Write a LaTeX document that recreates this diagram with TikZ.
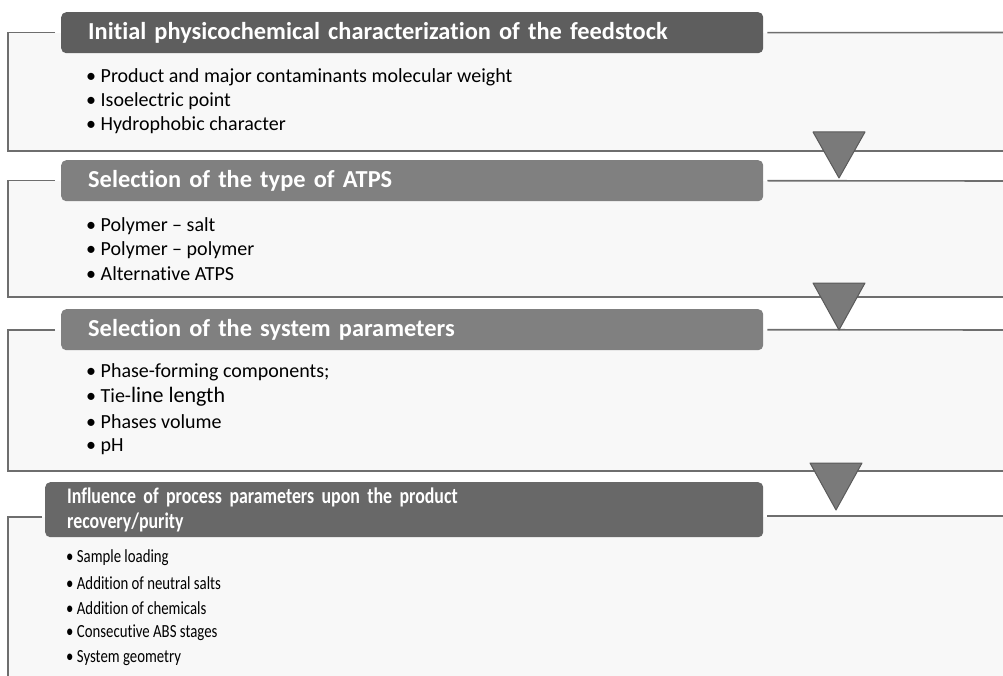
\documentclass[tikz,border=0pt]{standalone}
\usepackage{fontspec}
\setmainfont{Carlito}[Ligatures=NoCommon]
\newfontfamily\narrowfont[FakeStretch=0.8,Ligatures=NoCommon]{Carlito}
\definecolor{framegray}{HTML}{6E6E6E}
\definecolor{panelbg}{HTML}{F8F8F8}
\definecolor{headA}{HTML}{5E5E5E}
\definecolor{headB}{HTML}{808080}
\definecolor{headD}{HTML}{686868}
\definecolor{trifill}{HTML}{7A7A7A}
\definecolor{triline}{HTML}{5A5A5A}
\begin{document}
\begin{tikzpicture}[x=1pt,y=-1pt,
  frame/.style={draw=framegray, line width=1.6pt},
  panel/.style={fill=panelbg, draw=none},
  head/.style={rounded corners=5pt, text=white, anchor=north west,
    font=\fontsize{24.4}{28}\selectfont\bfseries, inner xsep=27pt,
    minimum height=41pt, text width=648pt, align=left},
  item/.style={anchor=west, inner sep=0pt, font=\fontsize{20}{22}\selectfont},
  nitem/.style={anchor=west, inner sep=0pt, font=\fontsize{18.5}{20}\selectfont\narrowfont},
  tri/.style={fill=trifill, draw=triline, line width=1pt, line join=round}
]
\useasboundingbox (0,0) rectangle (1003,676);
% panels
\fill[panel] (8,33) rectangle (1003,151);
\fill[panel] (8,181) rectangle (1003,297);
\fill[panel] (8,330) rectangle (1003,471);
\fill[panel] (8,517) rectangle (1003,676);

% headers
\node[head, fill=headA] (h1) at (61,12) {Initial physicochemical characterization of the feedstock};
\node[head, fill=headB] (h2) at (61,160) {Selection of the type of ATPS};
\node[head, fill=headB] (h3) at (61,309) {Selection of the system parameters};
\node[head, fill=headD, minimum height=55pt, inner xsep=22pt, text width=674pt,
  font=\fontsize{22.3}{25}\selectfont\bfseries\narrowfont] (h4) at (45,482)
  {Influence of process parameters upon the product\\recovery/purity};

% frames
\coordinate (e1) at (8,151);
\coordinate (e2) at (8,297);
\coordinate (e3) at (8,471);
\coordinate (e4) at (8,676);
\draw[frame] ([xshift=-6pt]h1.west) -- (h1.west -| e1) -- (e1) -- (1003,151);
\draw[frame] ([xshift=4pt]h1.east) -- (1003,32.5);
\draw[frame] ([xshift=-6pt]h2.west) -- (h2.west -| e2) -- (e2) -- (1003,297);
\draw[frame] ([xshift=4pt]h2.east) -- (1003,181);
\draw[frame] ([xshift=-6pt]h3.west) -- (h3.west -| e3) -- (e3) -- (1003,471);
\draw[frame] ([xshift=4pt]h3.east) -- (1003,330);
\coordinate (l4) at (42,517);
\draw[frame] (l4) -- (l4 -| e4) -- (e4);
\draw[frame] ([xshift=4pt]h4.east |- 0,516) -- (1003,516);

% triangles
\draw[tri] (813,132) -- (865,132) -- (839,178) -- cycle;
\draw[tri] (813,283) -- (865,283) -- (839,330) -- cycle;
\draw[tri] (810,463) -- (862,463) -- (836,510) -- cycle;

% items
\node[item] (a1) at (86,77) {\textbullet\ Product and major contaminants molecular weight};
\node[item] (a2) at (86,101) {\textbullet\ Isoelectric point};
\node[item] (a3) at (86,125) {\textbullet\ Hydrophobic character};
\node[item] (b1) at (86,226) {\textbullet\ Polymer -- salt};
\node[item] (b2) at (86,250) {\textbullet\ Polymer -- polymer};
\node[item] (b3) at (86,274) {\textbullet\ Alternative ATPS};
\node[item] (c1) at (86,372) {\textbullet\ Phase-forming components;};
\node[item] (c2) at (86,397) {\textbullet\ Tie-{\fontsize{22}{22}\selectfont line length}};
\node[item] (c3) at (86,422) {\textbullet\ Phases volume};
\node[item] (c4) at (86,447) {\textbullet\ pH};
\node[nitem] (d1) at (66,558) {\textbullet\ Sample loading};
\node[nitem] (d2) at (66,583) {\textbullet\ Addition of neutral salts};
\node[nitem] (d3) at (66,608) {\textbullet\ Addition of chemicals};
\node[nitem] (d4) at (66,633) {\textbullet\ Consecutive ABS stages};
\node[nitem] (d5) at (66,658) {\textbullet\ System geometry};
\end{tikzpicture}
\end{document}
